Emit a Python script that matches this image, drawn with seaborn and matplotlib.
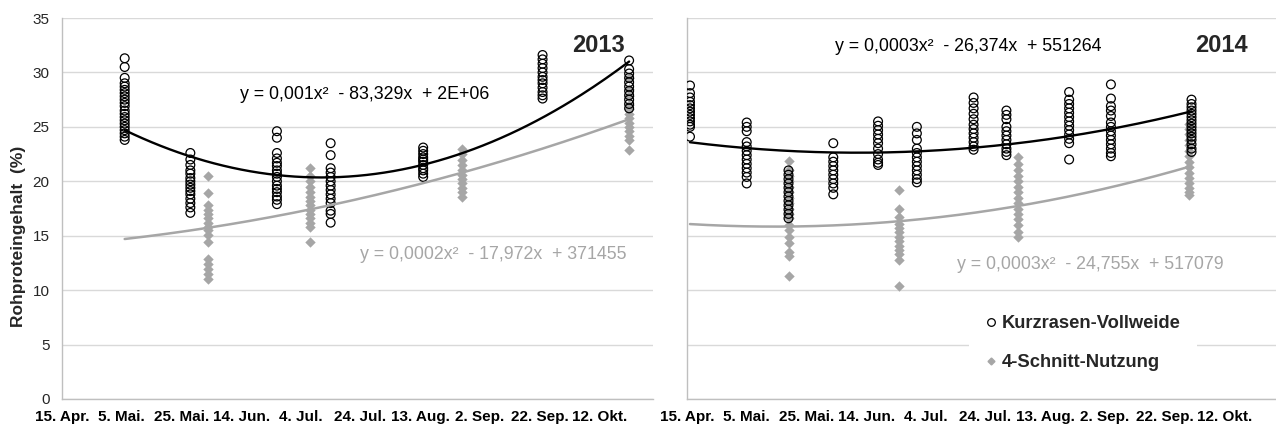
import numpy as np
import pandas as pd
import matplotlib.pyplot as plt
import seaborn as sns
from matplotlib.lines import Line2D

# Kurzrasen-Vollweide (open circles), values per sampling date
kurz_2013_dates = ["2013-05-06", "2013-05-28", "2013-06-26", "2013-07-14",
                   "2013-08-14", "2013-09-23", "2013-10-22"]
kurz_2013_values = [
    [31.3, 30.5, 29.5, 29.0, 28.7, 28.4, 28.1, 27.8, 27.5, 27.2, 26.9, 26.5,
     26.2, 25.9, 25.6, 25.3, 25.0, 24.7, 24.4, 24.1, 23.8],
    [22.6, 22.0, 21.5, 21.0, 20.7, 20.3, 20.0, 19.7, 19.4, 19.1, 18.8, 18.4,
     18.0, 17.6, 17.1],
    [24.6, 24.0, 22.6, 22.1, 21.7, 21.4, 21.0, 20.7, 20.4, 20.0, 19.6, 19.3,
     19.0, 18.6, 18.3, 17.9],
    [23.5, 22.4, 21.2, 20.8, 20.4, 20.0, 19.6, 19.2, 18.8, 18.4, 18.0, 17.3,
     17.0, 16.2],
    [23.1, 22.8, 22.5, 22.2, 22.0, 21.8, 21.5, 21.2, 21.0, 20.7, 20.4],
    [31.6, 31.2, 30.8, 30.4, 30.0, 29.6, 29.3, 29.0, 28.6, 28.2, 27.9, 27.6],
    [31.1, 30.3, 29.9, 29.5, 29.1, 28.7, 28.3, 27.9, 27.5, 27.1, 26.7],
]
kurz_2014_dates = ["2014-04-16", "2014-05-05", "2014-05-19", "2014-06-03",
                   "2014-06-18", "2014-07-01", "2014-07-20", "2014-07-31",
                   "2014-08-21", "2014-09-04", "2014-10-01"]
kurz_2014_values = [
    [28.8, 28.1, 27.7, 27.3, 27.0, 26.7, 26.4, 26.1, 25.8, 25.5, 25.2, 25.0, 24.1],
    [25.4, 25.0, 24.6, 23.6, 23.2, 22.8, 22.4, 22.0, 21.6, 21.2, 20.8, 20.4, 19.8],
    [21.0, 20.6, 20.2, 19.8, 19.4, 19.0, 18.6, 18.2, 17.8, 17.4, 17.0, 16.6],
    [23.5, 22.2, 21.8, 21.4, 21.0, 20.6, 20.2, 19.8, 19.4, 18.8],
    [25.5, 25.1, 24.7, 24.3, 23.9, 23.5, 23.0, 22.5, 22.0, 21.7, 21.5],
    [25.0, 24.4, 23.8, 23.0, 22.6, 22.2, 21.8, 21.4, 21.0, 20.6, 20.2, 19.9],
    [27.7, 27.2, 26.7, 26.2, 25.7, 25.2, 24.8, 24.4, 24.0, 23.6, 23.2, 22.9],
    [26.5, 26.1, 25.7, 25.0, 24.6, 24.2, 23.8, 23.4, 23.0, 22.7, 22.4],
    [28.2, 27.5, 27.1, 26.7, 26.3, 25.9, 25.5, 25.1, 24.7, 24.3, 23.9, 23.5, 22.0],
    [28.9, 27.6, 26.9, 26.5, 26.0, 25.4, 25.0, 24.6, 24.2, 23.8, 23.4, 23.0,
     22.6, 22.3],
    [27.5, 27.1, 26.8, 26.5, 26.2, 25.9, 25.6, 25.3, 25.0, 24.7, 24.4, 24.1,
     23.8, 23.4, 23.0, 22.7],
]

# 4-Schnitt-Nutzung (grey diamonds)
schnitt_2013_dates = ["2013-06-03", "2013-07-07", "2013-08-27", "2013-10-22"]
schnitt_2013_values = [
    [20.5, 18.9, 17.8, 17.4, 17.0, 16.6, 16.2, 15.8, 15.5, 15.1, 14.4, 12.9,
     12.4, 11.9, 11.5, 11.0],
    [21.2, 20.5, 20.0, 19.5, 19.0, 18.6, 18.2, 17.8, 17.4, 17.0, 16.6, 16.2,
     15.8, 14.4],
    [23.0, 22.5, 22.0, 21.5, 21.0, 20.6, 20.2, 19.8, 19.4, 19.0, 18.6],
    [29.5, 28.5, 27.8, 27.0, 26.6, 26.2, 25.8, 25.4, 25.0, 24.6, 24.2, 23.8, 22.9],
]
schnitt_2014_dates = ["2014-05-19", "2014-06-25", "2014-08-04", "2014-09-30"]
schnitt_2014_values = [
    [21.9, 21.0, 20.5, 20.0, 19.5, 19.0, 18.5, 18.0, 17.5, 17.0, 16.6, 16.0,
     15.5, 14.9, 14.3, 13.5, 13.1, 11.3],
    [19.2, 17.5, 16.7, 16.1, 15.7, 15.3, 14.9, 14.5, 14.1, 13.7, 13.3, 12.8, 10.4],
    [22.2, 21.6, 21.0, 20.5, 20.0, 19.5, 19.0, 18.5, 18.0, 17.5, 17.0, 16.5,
     16.0, 15.3, 14.9],
    [25.3, 24.8, 24.3, 23.8, 23.3, 22.8, 22.3, 21.8, 21.3, 20.8, 20.3, 19.8,
     19.4, 19.0, 18.7],
]

trend_kurz_2013_dates = ["2013-05-06", "2013-07-04", "2013-10-22"]
trend_kurz_2013 = [24.7, 20.4, 31.0]
trend_schnitt_2013_dates = ["2013-05-06", "2013-07-07", "2013-08-27", "2013-10-22"]
trend_schnitt_2013 = [14.7, 17.4, 20.8, 25.7]
trend_kurz_2014_dates = ["2014-04-16", "2014-06-18", "2014-08-21", "2014-10-01"]
trend_kurz_2014 = [23.6, 22.6, 24.2, 26.4]
trend_schnitt_2014_dates = ["2014-04-16", "2014-05-19", "2014-06-25",
                            "2014-08-04", "2014-09-30"]
trend_schnitt_2014 = [16.1, 15.8, 16.3, 17.8, 21.3]

eq_kurz = {2013: "y = 0,001x²  - 83,329x  + 2E+06",
           2014: "y = 0,0003x²  - 26,374x  + 551264"}
eq_schnitt = {2013: "y = 0,0002x²  - 17,972x  + 371455",
              2014: "y = 0,0003x²  - 24,755x  + 517079"}

tick_labels = ["15. Apr.", "5. Mai.", "25. Mai.", "14. Jun.", "4. Jul.",
               "24. Jul.", "13. Aug.", "2. Sep.", "22. Sep.", "12. Okt."]
yticks = [0, 5, 10, 15, 20, 25, 30, 35]

GREY = "#A6A6A6"
GRID = "#D9D9D9"
AXIS = "#BFBFBF"


def to_long(dates, values):
    rows = [(pd.Timestamp(d), v) for d, vals in zip(dates, values) for v in vals]
    return pd.DataFrame(rows, columns=["date", "value"])


def trend(dates, vals, start):
    d = pd.to_datetime(dates)
    days = (d - start).days.values
    coef = np.polyfit(days, vals, 2)
    grid = np.arange(days.min(), days.max() + 1)
    return start + pd.to_timedelta(grid, unit="D"), np.polyval(coef, grid)


sns.set_style("white")
plt.rcParams["font.family"] = ["Liberation Sans", "DejaVu Sans"]

fig = plt.figure(figsize=(12.76, 4.26), dpi=100)
ax1 = fig.add_axes([62 / 1276, 27 / 426, 591 / 1276, 381 / 426])
ax2 = fig.add_axes([687 / 1276, 27 / 426, 589 / 1276, 381 / 426])

panels = [
    (ax1, 2013, kurz_2013_dates, kurz_2013_values, schnitt_2013_dates,
     schnitt_2013_values, trend_kurz_2013_dates, trend_kurz_2013,
     trend_schnitt_2013_dates, trend_schnitt_2013, 198.0),
    (ax2, 2014, kurz_2014_dates, kurz_2014_values, schnitt_2014_dates,
     schnitt_2014_values, trend_kurz_2014_dates, trend_kurz_2014,
     trend_schnitt_2014_dates, trend_schnitt_2014, 197.3),
]

for (ax, year, kd, kv, sd, sv, tkd, tk, tsd, ts, span) in panels:
    start = pd.Timestamp(f"{year}-04-15")

    sns.scatterplot(data=to_long(sd, sv), x="date", y="value", ax=ax,
                    marker="D", s=28, color=GREY, edgecolor=GREY,
                    linewidth=0, zorder=2, legend=False)
    sns.scatterplot(data=to_long(kd, kv), x="date", y="value", ax=ax,
                    marker="o", s=40, facecolor="none", edgecolor="black",
                    linewidth=0.9, zorder=3, legend=False)

    tx, ty = trend(tsd, ts, start)
    sns.lineplot(x=tx, y=ty, ax=ax, color=GREY, lw=1.8, zorder=4)
    tx, ty = trend(tkd, tk, start)
    sns.lineplot(x=tx, y=ty, ax=ax, color="black", lw=1.7, zorder=5)

    ticks = pd.date_range(start, periods=len(tick_labels), freq="20D")
    ax.set_xticks(ticks)
    ax.set_xticklabels(tick_labels, fontsize=11, fontweight="bold")
    ax.set_xlim(start, start + pd.Timedelta(days=span))
    ax.set_ylim(0, 35)
    ax.set_yticks(yticks)
    ax.set_xlabel("")
    ax.set_ylabel("")
    ax.yaxis.grid(True, color=GRID, lw=1.0)
    ax.xaxis.grid(False)
    ax.set_axisbelow(True)
    for s in ["top", "right"]:
        ax.spines[s].set_visible(False)
    for s in ["left", "bottom"]:
        ax.spines[s].set_color(AXIS)
        ax.spines[s].set_linewidth(1.0)
    ax.tick_params(axis="x", direction="out", length=3, width=1, color=AXIS,
                   pad=5, labelcolor="black")
    ax.tick_params(axis="y", length=0, pad=9, labelsize=11, labelcolor="#262626")

    ax.text(0.907, 0.929, str(year), transform=ax.transAxes, ha="center",
            va="center", fontsize=17, fontweight="bold")

ax1.text(0.301, 0.80, eq_kurz[2013], transform=ax1.transAxes, ha="left",
         va="center", fontsize=12.8, color="black")
ax1.text(0.504, 0.378, eq_schnitt[2013], transform=ax1.transAxes, ha="left",
         va="center", fontsize=12.8, color=GREY)
ax2.text(0.251, 0.924, eq_kurz[2014], transform=ax2.transAxes, ha="left",
         va="center", fontsize=12.8, color="black")
ax2.text(0.458, 0.352, eq_schnitt[2014], transform=ax2.transAxes, ha="left",
         va="center", fontsize=12.8, color=GREY)

ax2.set_yticklabels([])
ax1.set_ylabel("Rohproteingehalt  (%)", fontsize=12.5, fontweight="bold")
ax1.yaxis.set_label_coords(-0.061, 0.428)

handles = [
    Line2D([], [], ls="none", marker="o", ms=5.5, mfc="none", mec="black",
           mew=0.9, label="Kurzrasen-Vollweide"),
    Line2D([], [], ls="none", marker="D", ms=3.5, mfc=GREY, mec=GREY,
           label="4-Schnitt-Nutzung"),
]
leg = ax2.legend(handles=handles, loc="center", bbox_to_anchor=(0.672, 0.147),
                 frameon=True, facecolor="white", edgecolor="none",
                 framealpha=1, prop={"weight": "bold", "size": 13.2},
                 handlelength=0.6, handletextpad=0.3, labelspacing=1.2,
                 borderpad=0.9)

fig.savefig("out.png", dpi=100)
